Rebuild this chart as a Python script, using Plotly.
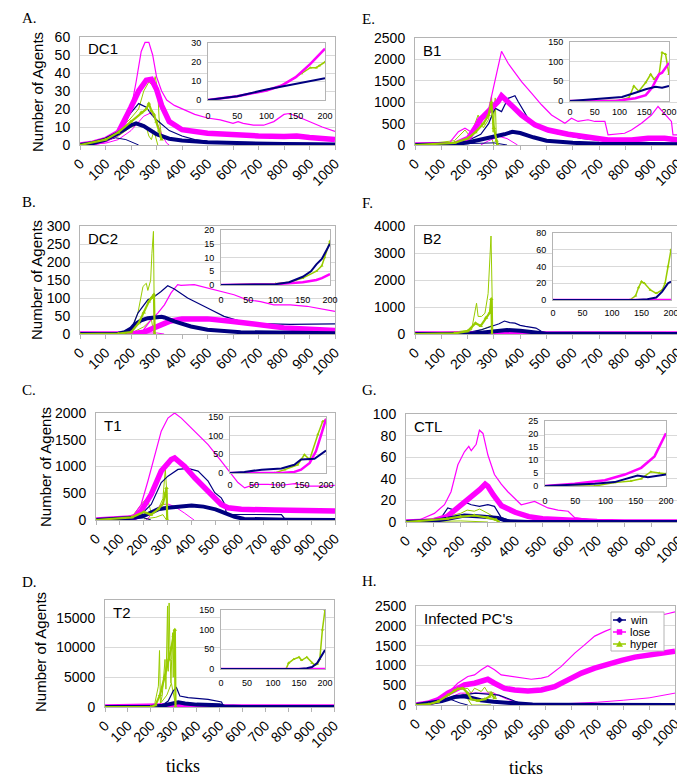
import plotly.graph_objects as go

W, H = 685, 782

# ---------------- data: (tick, number of agents) ----------------
# A. DC1
DC1_win_mean = [(0,0),(50,1),(100,3),(150,6.5),(200,11),(220,12),(250,10.5),(300,6),(350,3.5),(400,2.5),(500,1.5),(600,1),(800,0.5),(1000,0.3)]
DC1_win_hi = [(0,0),(50,1),(100,3.5),(150,8),(200,18),(230,23),(260,21),(280,17),(300,14),(350,8),(400,5),(450,3),(500,2),(600,1.5),(800,1),(1000,0.8)]
DC1_win_lo = [(0,0),(50,1),(100,2.5),(140,4),(180,3),(210,1),(230,0)]
DC1_lose_mean = [(0,0),(50,1),(100,3),(150,7),(200,21),(230,30),(260,36),(280,36.5),(300,31),(320,22),(350,13),(400,8.5),(500,6.5),(600,5.5),(700,5),(800,4.7),(850,5),(900,4.2),(1000,3)]
DC1_lose_hi = [(0,0),(50,1),(100,3),(150,7),(180,12),(200,20),(220,35),(240,52),(255,57),(270,57),(285,50),(300,38),(320,30),(340,25),(370,22),(400,20),(450,17),(500,15),(550,14),(600,12),(620,13),(640,12),(680,11),(720,11),(760,13),(800,17),(820,17.5),(850,16),(900,13),(950,10),(1000,7.5)]
DC1_lose_lo = [(0,0),(100,1),(150,3),(200,8),(250,16),(280,18),(300,13),(320,6),(340,1),(350,0)]
DC1_hyper_mean = [(0,0),(100,3),(150,7),(200,13),(240,18),(260,20),(270,23),(280,19),(290,17),(300,13),(310,8),(320,3)]
DC1_hyper_hi = [(0,0),(100,3),(150,8),(200,15),(230,20),(250,30),(270,35),(285,33),(295,38),(305,30),(310,15),(320,5)]
DC1_hyper_lo = [(0,0),(100,2),(150,5),(200,10),(240,12),(260,10),(270,5),(280,3),(290,8),(300,2),(305,0)]
DC1_in_win = [(0,0),(50,2),(100,5.5),(150,8.5),(175,10),(200,11.5)]
DC1_in_lose = [(0,0),(50,2),(100,5),(125,7.5),(150,12),(175,19),(200,27)]
DC1_in_hyper = [(0,0),(50,2),(100,5),(125,7.5),(150,12),(160,14),(175,17),(185,17),(190,18),(200,20)]

# B. DC2
DC2_win_mean = [(0,0),(150,1),(175,5),(200,15),(214,26),(240,38),(266,44),(292,47),(320,48),(331,46),(370,35),(435,21),(500,12),(630,5),(760,3),(1000,2)]
DC2_win_hi = [(0,0),(150,1),(201,12),(227,58),(266,95),(292,104),(318,118),(344,134),(370,125),(422,100),(500,72),(565,49),(630,35),(708,29),(825,27),(1000,28)]
DC2_win_lo = [(0,0),(150,1),(200,5),(230,3),(250,0)]
DC2_lose_mean = [(0,0),(200,0),(250,5),(300,20),(350,35),(400,42),(500,42),(600,35),(700,25),(800,17),(900,13),(1000,10)]
DC2_lose_hi = [(0,0),(200,1),(240,3),(279,40),(305,58),(331,81),(357,114),(383,137),(396,135),(448,137),(526,123),(604,109),(656,95),(708,90),(760,81),(825,81),(890,77),(1000,63)]
DC2_lose_lo = [(0,0),(250,1),(300,3),(330,0)]
DC2_hyper_mean = [(0,0),(150,1),(200,5),(230,30),(250,60),(270,90),(280,100),(290,110),(293,0)]
DC2_hyper_hi = [(0,0),(150,1),(200,10),(227,58),(247,132),(260,141),(266,121),(277,149),(282,224),(288,285),(292,3)]
DC2_hyper_lo = [(0,0),(200,2),(250,20),(280,40),(290,0)]
DC2_in_win = [(0,0),(100,0.3),(125,1),(150,3),(165,5),(175,7.5),(185,9.5),(200,15)]
DC2_in_lose = [(0,0),(100,0.3),(150,1),(175,1.8),(185,2.5),(200,4)]
DC2_in_hyper = [(0,0),(100,0.5),(125,1),(150,2.5),(175,5),(185,7),(190,10),(200,16)]

# C. T1
T1_win_mean = [(0,0),(100,20),(161,43),(200,80),(260,200),(300,230),(357,260),(400,270),(450,250),(500,200),(540,130),(580,60),(620,20),(700,10),(800,5),(1000,0)]
T1_win_hi = [(0,0),(100,30),(161,43),(189,105),(231,290),(273,700),(301,820),(343,945),(385,963),(427,913),(469,727),(497,510),(524,415),(538,300),(545,137),(560,105),(776,100),(790,20),(1000,5)]
T1_win_lo = [(0,0),(100,20),(200,40),(230,0)]
T1_lose_mean = [(0,0),(119,20),(161,43),(189,170),(231,480),(273,915),(315,1130),(329,1160),(371,1000),(413,790),(469,540),(524,290),(552,230),(608,200),(748,185),(888,185),(1000,170)]
T1_lose_hi = [(0,0),(119,43),(161,105),(189,290),(217,725),(245,1220),(273,1660),(301,1905),(329,2000),(357,1905),(413,1660),(469,1410),(524,1100),(566,850),(594,700),(622,600),(664,665),(720,665),(776,650),(832,680),(888,635),(972,635),(1000,650)]
T1_lose_lo = [(210,0),(240,150),(270,280),(300,300),(330,250),(370,130),(410,0)]
T1_hyper_mean = [(0,0),(150,50),(200,150),(230,100),(260,200),(280,300),(290,500),(295,600),(298,0)]
T1_hyper_hi = [(0,0),(150,60),(200,350),(215,400),(230,150),(260,200),(280,400),(290,950),(295,600),(300,0)]
T1_hyper_lo = [(200,20),(250,50),(280,100),(295,0)]
T1_in_win = [(0,0),(30,3),(66,9),(107,12),(134,22),(148,36),(176,38),(200,60)]
T1_in_lose = [(0,0),(107,0),(134,3),(148,9),(166,27),(179,58),(190,103),(200,145)]
T1_in_hyper = [(0,0),(93,0),(114,9),(141,22),(155,49),(166,36),(183,103),(193,138),(200,143)]

# D. T2
T2_win_mean = [(0,0),(200,0),(250,200),(300,700),(320,800),(350,600),(400,400),(500,300),(520,100),(600,0),(1000,0)]
T2_win_hi = [(0,0),(200,50),(250,300),(276,1000),(298,2700),(312,3250),(327,1850),(363,1570),(450,1290),(509,840),(516,170),(600,50),(1000,0)]
T2_lose_mean = [(0,0),(280,0),(300,200),(330,400),(360,300),(400,100),(450,0),(1000,0)]
T2_lose_hi = [(0,0),(280,0),(300,300),(330,600),(380,400),(450,100),(500,0),(1000,0)]
T2_hyper_mean = [(0,0),(200,0),(220,300),(240,2000),(260,5000),(280,8000),(290,10000),(300,12000),(305,13000),(308,0)]
T2_hyper_hi = [(0,0),(200,0),(218,700),(233,3500),(238,9500),(242,500),(250,2000),(258,6000),(262,8000),(266,3000),(270,12000),(273,17000),(276,6000),(280,17500),(284,9000),(288,4000),(291,8000),(295,12500),(298,5000),(301,13000),(305,11000),(308,0)]
T2_hyper_lo = [(0,0),(220,0),(240,500),(270,2000),(290,4000),(305,1000),(310,0)]
T2_in_win = [(0,0),(150,0),(165,2),(175,5),(185,15),(195,35),(200,48)]
T2_in_lose = [(0,0),(200,0)]
T2_in_hyper = [(0,0),(125,0),(130,15),(140,25),(150,30),(155,22),(165,30),(175,15),(180,10),(185,12),(190,25),(195,100),(200,150)]

# E. B1
B1_win_mean = [(0,0),(100,5),(150,20),(200,60),(250,120),(300,200),(340,250),(370,310),(400,280),(450,180),(500,100),(600,50),(700,30),(1000,20)]
B1_win_hi = [(0,0),(100,10),(150,50),(200,100),(250,250),(280,500),(304,860),(329,780),(354,1090),(380,1150),(392,1015),(430,625),(481,390),(532,275),(570,235),(633,156),(759,78),(1000,40)]
B1_win_lo = [(0,0),(200,30),(300,50),(350,0)]
B1_lose_mean = [(0,0),(150,10),(203,156),(253,625),(291,860),(316,1015),(329,1150),(367,940),(405,700),(456,470),(506,350),(582,250),(633,195),(734,117),(823,117),(886,156),(949,156),(1000,117)]
B1_lose_hi = [(0,0),(127,20),(165,310),(190,390),(215,300),(240,625),(278,780),(304,1480),(329,2190),(354,1910),(380,1680),(405,1480),(443,1210),(481,940),(519,700),(570,510),(595,625),(620,550),(658,590),(684,550),(722,550),(734,235),(797,275),(823,350),(861,510),(899,700),(924,900),(949,740),(975,550),(981,235),(1000,235)]
B1_lose_lo = [(250,0),(280,100),(320,200),(350,150),(390,0)]
B1_hyper_mean = [(0,0),(150,50),(200,150),(230,300),(260,500),(280,700),(290,1000),(300,400),(310,100),(315,0)]
B1_hyper_hi = [(0,0),(150,100),(190,350),(210,200),(240,700),(260,400),(280,600),(291,1150),(297,300),(305,1100),(310,0)]
B1_hyper_lo = [(150,0),(200,50),(250,100),(290,200),(300,0)]
B1_in_win = [(0,0),(30,3),(64,7),(105,10),(132,21),(153,30),(173,36),(186,34),(200,38)]
B1_in_lose = [(0,0),(92,0),(132,7),(153,15),(166,34),(180,68),(186,72),(200,97)]
B1_in_hyper = [(0,0),(100,2),(119,8),(129,38),(139,25),(153,47),(163,68),(170,55),(180,68),(186,123),(193,119),(200,68)]

# F. B2
B2_win_mean = [(0,0),(200,10),(250,50),(300,100),(350,150),(400,120),(450,60),(500,10),(600,5),(1000,0)]
B2_win_hi = [(0,0),(200,50),(250,150),(280,250),(300,300),(320,380),(340,480),(360,420),(380,400),(400,320),(420,280),(440,250),(460,220),(480,100),(500,40),(600,20),(1000,0)]
B2_lose_mean = [(0,0),(250,0),(300,20),(400,20),(450,0),(1000,0)]
B2_hyper_mean = [(0,0),(150,20),(200,100),(230,400),(250,300),(270,600),(285,800),(290,1300),(293,0)]
B2_hyper_hi = [(0,0),(165,90),(215,150),(234,1140),(240,650),(253,650),(266,770),(278,1500),(289,3630),(294,270),(296,0)]
B2_hyper_lo = [(0,0),(200,20),(250,150),(290,300),(295,0)]
B2_in_win = [(0,0),(140,0),(160,1),(175,3),(185,10),(195,20),(200,22)]
B2_in_lose = [(0,0),(200,0)]
B2_in_hyper = [(0,0),(130,0),(140,5),(145,15),(150,22),(155,20),(165,12),(175,8),(185,12),(190,20),(195,40),(200,60)]

# G. CTL
CTL_win_mean = [(0,0),(100,1),(153,3),(214,6),(275,5),(337,3.7),(373,0.6),(450,0),(1000,0)]
CTL_win_hi = [(0,0),(100,1),(128,3.7),(153,13),(177,11),(214,18.5),(239,16),(269,14.5),(300,16),(324,14.5),(349,4),(400,0),(1000,0)]
CTL_lose_mean = [(0,0),(50,0),(100,1),(150,5),(200,15),(250,25),(270,30),(290,35),(300,33),(320,25),(350,15),(400,9),(450,5),(500,3),(600,1.5),(700,0.5),(800,0),(1000,0)]
CTL_lose_hi = [(0,0),(31,0),(67,4),(104,8),(141,16),(165,28),(190,53),(214,65),(230,70),(239,66),(257,72),(269,85),(282,82),(300,62),(324,44),(349,35),(373,28),(398,22),(422,16),(471,19),(520,13),(557,11),(594,10),(618,4),(667,2),(716,0.6),(800,0)]
CTL_hyper_mean = [(0,0),(150,3),(200,5),(250,6),(300,4),(330,2),(340,0)]
CTL_hyper_hi = [(0,0),(150,5),(200,8),(224,11),(250,10),(270,12),(300,8),(320,5),(340,0)]
CTL_hyper_lo = [(0,0),(200,1),(300,0)]
CTL_in_win = [(0,0),(50,0.5),(82,0.9),(115,1.5),(142,3.2),(153,4),(170,3.4),(200,4.4)]
CTL_in_lose = [(0,0),(49,0.9),(99,2.2),(132,4.4),(159,7),(181,11.4),(200,20.3)]
CTL_in_hyper = [(0,0),(82,0),(115,1.3),(142,1.9),(159,2.8),(175,5.5),(189,5),(200,4.7)]

# H. Infected PC's
PC_win_mean = [(0,0),(100,100),(150,200),(180,220),(200,200),(250,120),(300,80),(350,50),(400,30),(450,10),(500,5),(1000,0)]
PC_win_hi = [(0,0),(100,100),(150,200),(180,250),(230,300),(280,280),(320,250),(360,150),(400,50),(450,20),(1000,0)]
PC_win_lo = [(0,0),(100,80),(130,150),(170,50),(200,0)]
PC_lose_mean = [(0,0),(45,42),(84,127),(123,297),(161,420),(187,510),(226,550),(265,635),(277,650),(303,550),(342,420),(381,380),(432,355),(484,380),(535,465),(587,635),(639,805),(690,930),(742,1040),(794,1125),(845,1210),(897,1270),(948,1330),(1000,1355)]
PC_lose_hi = [(0,0),(45,42),(84,127),(123,297),(161,550),(200,720),(226,760),(252,890),(277,990),(303,890),(329,760),(368,720),(406,700),(445,650),(484,680),(510,720),(561,975),(613,1310),(652,1525),(690,1740),(729,1860),(768,1965),(819,2075),(871,2160),(923,2245),(974,2310),(1000,2350)]
PC_lose_lo = [(0,0),(100,100),(170,300),(250,300),(300,300),(350,150),(400,50),(450,20),(500,20),(600,40),(700,70),(800,120),(900,180),(1000,300)]
PC_hyper_mean = [(0,0),(50,20),(84,85),(123,254),(148,364),(161,407),(181,424),(200,297),(213,144),(239,110),(265,144),(284,212),(290,297),(303,170)]
PC_hyper_hi = [(150,380),(200,420),(213,300),(226,424),(252,340),(265,450),(277,322),(290,330),(303,297),(310,150)]
PC_hyper_lo = [(180,300),(200,150),(215,0),(290,0)]

LEGEND_NAMES = ["win", "lose", "hyper"]
X_TICKS = list(range(0, 1001, 100))
INSET_X_TICKS = list(range(0, 201, 50))

# ---------------- styling / layout ----------------
NAVY = "#000080"
MAG = "#ff00ff"
GRN = "#99cc00"
FRAME = "#b4b4b4"
GRID = "#d9d9d9"
SANS = "Arial, Liberation Sans, sans-serif"
SERIF = "Times New Roman, Liberation Serif, serif"


def fx(p):
    return p / W


def fy(p):
    return 1 - p / H


# key, name, letter, (L, R, T, B) plot box px, ymax, dtick, y-title center, inset box
PANELS = [
    ("DC1", "DC1", "A.", (72, 327, 29, 137), 60, 10, (30, 84), (200, 317, 35, 92, 30, 10, 7)),
    ("B1", "B1", "E.", (407, 670, 30, 137), 2500, 500, None, (562, 661, 34, 93, 150, 50, 2)),
    ("DC2", "DC2", "B.", (72, 327, 218, 326), 300, 50, (28, 272), (213, 322, 222, 277, 20, 5, 6)),
    ("B2", "B2", "F.", (407, 670, 218, 326), 4000, 1000, None, (545, 663, 225, 292, 80, 20, 4)),
    ("T1", "T1", "C.", (88, 327, 405, 512), 2000, 500, (37, 459), (222, 318, 409, 465, 150, 50, 3)),
    ("CTL", "CTL", "G.", (398, 671, 406, 514), 100, 20, None, (537, 658, 413, 478, 25, 5, 6)),
    ("T2", "T2", "D.", (97, 326, 592, 699), 18000, 5000, (32, 644), (213, 317, 602, 661, 150, 50, 5)),
    ("PC", "Infected PC's", "H.", (408, 667, 598, 697), 2500, 500, None, None),
]
LETTER_POS = {"A.": (12, 10), "B.": (12, 194), "C.": (12, 382), "D.": (12, 574),
              "E.": (352, 11), "F.": (352, 195), "G.": (352, 382), "H.": (352, 573)}

MAIN_STYLE = [  # suffix, color, width, marker
    ("hyper_lo", GRN, 1, None),
    ("hyper_hi", GRN, 1, None),
    ("lose_lo", MAG, 1, None),
    ("lose_hi", MAG, 1.2, None),
    ("win_lo", NAVY, 1, None),
    ("win_hi", NAVY, 1.2, None),
    ("lose_mean", MAG, 5.5, None),
    ("win_mean", NAVY, 4, None),
    ("hyper_mean", GRN, 2.2, "triangle-up"),
]
INSET_STYLE = [
    ("in_hyper", GRN, 1.5, "triangle-up"),
    ("in_lose", MAG, 2.5, None),
    ("in_win", NAVY, 2, None),
]

fig = go.Figure()
G = globals()


def add_series(pts, xa, ya, color, width, marker, msize):
    x = [p[0] for p in pts]
    y = [p[1] for p in pts]
    tr = dict(x=x, y=y, xaxis=xa, yaxis=ya, mode="lines",
              line=dict(color=color, width=width), showlegend=False, hoverinfo="skip")
    if marker:
        tr["mode"] = "lines+markers"
        tr["marker"] = dict(symbol=marker, size=msize, color=color, line=dict(width=0))
    fig.add_trace(go.Scatter(**tr))


layout = {}
annotations = []
shapes = []
inset_n = len(PANELS) + 1

for i, (key, name, letter, box, ymax, dtick, ytitle, inset) in enumerate(PANELS, start=1):
    L, R, T, B = box
    sx = "" if i == 1 else str(i)
    xa, ya = "x" + sx, "y" + sx
    for suf, col, wd, mk in MAIN_STYLE:
        nm = f"{key}_{suf}"
        if nm in G:
            add_series(G[nm], xa, ya, col, wd, mk, 4)
    layout["xaxis" + sx] = dict(
        domain=[fx(L), fx(R)], range=[0, 1000], anchor=ya, tickvals=X_TICKS,
        ticktext=[str(v) for v in X_TICKS], tickangle=-45,
        tickfont=dict(family=SANS, size=14, color="black"),
        showgrid=False, zeroline=False, showline=True, linecolor=FRAME, mirror=True,
        ticks="outside", ticklen=4, tickcolor=FRAME, fixedrange=True, automargin=False)
    yt = list(range(0, ymax + 1, dtick))
    layout["yaxis" + sx] = dict(
        domain=[fy(B), fy(T)], range=[0, ymax], anchor=xa, tickvals=yt,
        ticktext=[str(v) for v in yt], tickfont=dict(family=SANS, size=14, color="black"),
        showgrid=True, gridcolor=GRID, gridwidth=1, zeroline=False, showline=True,
        linecolor=FRAME, mirror=True, ticks="", ticklabelstandoff=6, fixedrange=True,
        automargin=False)
    annotations.append(dict(x=fx(L + 6), y=fy(T + 12), xref="paper", yref="paper", text=name,
                            showarrow=False, xanchor="left", yanchor="middle",
                            font=dict(family=SANS, size=15, color="black")))
    lx, ly = LETTER_POS[letter]
    annotations.append(dict(x=fx(lx), y=fy(ly), xref="paper", yref="paper", text=letter,
                            showarrow=False, xanchor="left", yanchor="middle",
                            font=dict(family=SERIF, size=15, color="black")))
    if ytitle:
        annotations.append(dict(x=fx(ytitle[0]), y=fy(ytitle[1]), xref="paper", yref="paper",
                                text="Number of Agents", textangle=-90, showarrow=False,
                                xanchor="center", yanchor="middle",
                                font=dict(family=SANS, size=15, color="black")))
    if inset:
        iL, iR, iT, iB, iymax, idt, istand = inset
        n = str(inset_n)
        inset_n += 1
        ixa, iya = "x" + n, "y" + n
        for suf, col, wd, mk in INSET_STYLE:
            nm = f"{key}_{suf}"
            if nm in G:
                add_series(G[nm], ixa, iya, col, wd, mk, 3)
        layout["xaxis" + n] = dict(
            domain=[fx(iL), fx(iR)], range=[0, 200], anchor=iya, tickvals=INSET_X_TICKS,
            ticktext=[str(v) for v in INSET_X_TICKS], tickangle=0,
            tickfont=dict(family=SANS, size=9, color="black"),
            showgrid=False, zeroline=False, showline=True, linecolor=FRAME, mirror=True,
            ticks="", ticklen=0, ticklabelstandoff=istand, fixedrange=True, automargin=False)
        iyt = list(range(0, iymax + 1, idt))
        layout["yaxis" + n] = dict(
            domain=[fy(iB), fy(iT)], range=[0, iymax], anchor=ixa, tickvals=iyt,
            ticktext=[str(v) for v in iyt], tickfont=dict(family=SANS, size=9, color="black"),
            showgrid=True, gridcolor=GRID, zeroline=False, showline=True, linecolor=FRAME,
            mirror=True, ticks="", ticklen=0, ticklabelstandoff=4, fixedrange=True,
            automargin=False)

# x-axis titles "ticks"
for cx, cy in [(175, 758), (518, 760)]:
    annotations.append(dict(x=fx(cx), y=fy(cy), xref="paper", yref="paper", text="ticks",
                            showarrow=False, xanchor="center", yanchor="middle",
                            font=dict(family=SERIF, size=18, color="black")))

# hand-built legend for panel H
shapes.append(dict(type="rect", xref="paper", yref="paper", x0=fx(603), x1=fx(656),
                   y0=fy(643), y1=fy(604), line=dict(color=FRAME, width=1),
                   fillcolor="white", layer="above"))
leg_cols = [NAVY, MAG, GRN]
for k, (lbl, col) in enumerate(zip(LEGEND_NAMES, leg_cols)):
    yy = 612 + 12 * k
    shapes.append(dict(type="line", xref="paper", yref="paper", x0=fx(605), x1=fx(618),
                       y0=fy(yy), y1=fy(yy), line=dict(color=col, width=1.5), layer="above"))
    cx = 611.5
    if k == 0:
        path = (f"M {fx(cx)},{fy(yy-3)} L {fx(cx+3)},{fy(yy)} L {fx(cx)},{fy(yy+3)} "
                f"L {fx(cx-3)},{fy(yy)} Z")
    elif k == 1:
        path = (f"M {fx(cx-2.5)},{fy(yy-2.5)} L {fx(cx+2.5)},{fy(yy-2.5)} "
                f"L {fx(cx+2.5)},{fy(yy+2.5)} L {fx(cx-2.5)},{fy(yy+2.5)} Z")
    else:
        path = (f"M {fx(cx)},{fy(yy-3)} L {fx(cx+3)},{fy(yy+2.5)} "
                f"L {fx(cx-3)},{fy(yy+2.5)} Z")
    shapes.append(dict(type="path", xref="paper", yref="paper", path=path,
                       fillcolor=col, line=dict(color=col, width=0.5), layer="above"))
    annotations.append(dict(x=fx(620), y=fy(yy), xref="paper", yref="paper", text=lbl,
                            showarrow=False, xanchor="left", yanchor="middle",
                            font=dict(family=SANS, size=11, color="black")))

fig.update_layout(
    width=W, height=H, autosize=False,
    margin=dict(l=0, r=0, t=0, b=0, pad=0, autoexpand=False),
    paper_bgcolor="white", plot_bgcolor="white",
    showlegend=False, hovermode=False,
    annotations=annotations, shapes=shapes,
    **layout,
)

fig.write_html("out.html")
